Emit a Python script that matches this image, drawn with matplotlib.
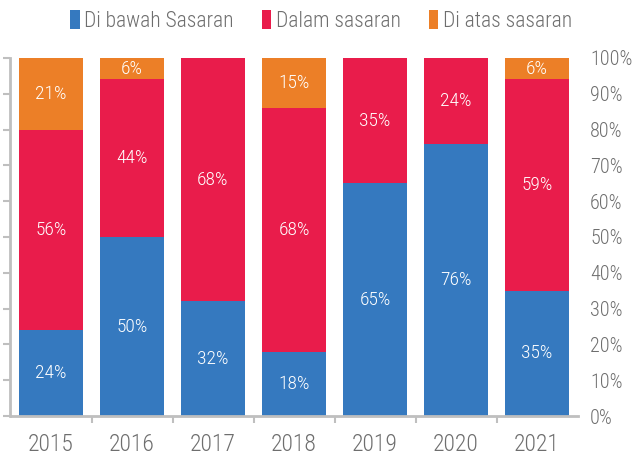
import matplotlib
matplotlib.use("Agg")
import matplotlib.pyplot as plt
import numpy as np
from matplotlib import font_manager

years = ["2015", "2016", "2017", "2018", "2019", "2020", "2021"]
below = [24, 50, 32, 18, 65, 76, 35]
within = [56, 44, 68, 68, 35, 24, 59]
above = [21, 6, 0, 15, 0, 0, 6]
series_names = ["Di bawah Sasaran", "Dalam sasaran", "Di atas sasaran"]
y_ticks = [0, 10, 20, 30, 40, 50, 60, 70, 80, 90, 100]

colors = ["#3579BF", "#E91C4B", "#EC7F27"]
text_gray = "#6E6E6E"
spine_gray = "#BFBFBF"

avail = sorted({f.name for f in font_manager.fontManager.ttflist})
fam = "Roboto Condensed" if "Roboto Condensed" in avail else "Roboto"
plt.rcParams["font.family"] = [fam, "DejaVu Sans"]
plt.rcParams["font.weight"] = "light"

fig = plt.figure(figsize=(6.32, 4.59), dpi=100)
ax = fig.add_axes([10.5 / 632, 1 - 416 / 459, 567 / 632, 358 / 459])

x = np.arange(len(years))
width = 0.79
series = [below, within, above]
bottoms = np.zeros(len(years))
handles = []
for vals, col, name in zip(series, colors, series_names):
    v = np.array(vals, dtype=float) / 100
    bars = ax.bar(x, v, width, bottom=bottoms, color=col, label=name, zorder=2)
    handles.append(bars)
    for xi, b, h, raw in zip(x, bottoms, v, vals):
        if raw > 0:
            top = min(b + h, 1.0)
            ax.text(xi, (b + top) / 2, f"{raw}%", ha="center", va="center",
                    color="white", fontsize=14, zorder=3)
    bottoms = bottoms + v

ax.set_xlim(-0.5, len(years) - 0.5)
ax.set_ylim(0, 1.0)

for s in ["top", "right"]:
    ax.spines[s].set_visible(False)
for s in ["left", "bottom"]:
    ax.spines[s].set_color(spine_gray)
    ax.spines[s].set_linewidth(2)
ax.spines["bottom"].set_zorder(4)

ax.set_yticks(np.array(y_ticks) / 100)
ax.set_yticklabels([f"{t}%" for t in y_ticks])
ax.tick_params(axis="y", left=True, right=False, labelleft=False, labelright=True,
               direction="out", length=5, width=1.5, color=spine_gray,
               labelcolor=text_gray, labelsize=14.5, pad=4)

ax.set_xticks(x)
ax.set_xticklabels(years)
ax.set_xticks(np.arange(0.5, len(years) - 1, 1.0), minor=True)
ax.tick_params(axis="x", which="major", length=0, labelcolor=text_gray,
               labelsize=17, pad=12)
ax.tick_params(axis="x", which="minor", length=5, width=1.5, color=spine_gray,
               direction="out")

leg = fig.legend(handles=handles, labels=series_names, loc="center",
                 bbox_to_anchor=(321 / 632, 1 - 21 / 459), ncol=3, frameon=False,
                 fontsize=15.5, handlelength=0.45, handleheight=1.0,
                 handletextpad=0.2, columnspacing=1.3)
for t in leg.get_texts():
    t.set_color(text_gray)

fig.savefig("out.png", dpi=100)
